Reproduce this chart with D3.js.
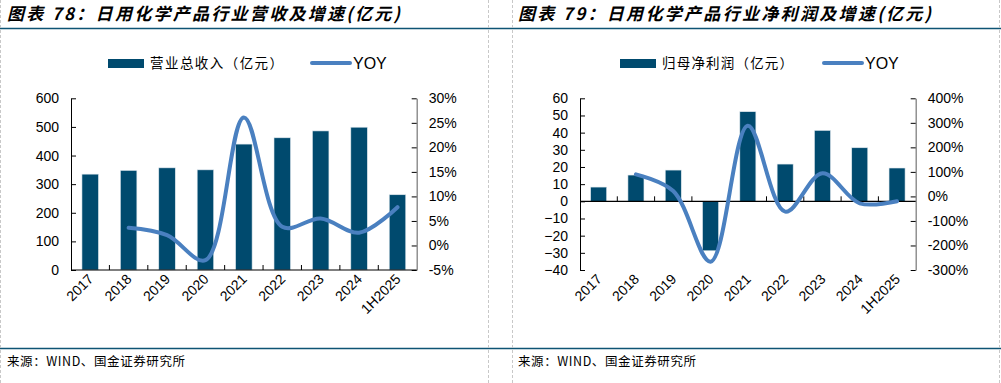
<!DOCTYPE html>
<html><head><meta charset="utf-8">
<script src="https://cdn.jsdelivr.net/npm/d3@7/dist/d3.min.js"></script>
<style>
body{margin:0;background:#fff;}
svg{display:block;}
text{font-family:"Liberation Sans",Arial,sans-serif;}
.cjk{font-family:"Noto Sans CJK SC",sans-serif;}
</style></head><body>
<svg id="c" width="1001" height="383"></svg>
<script>
const categories = ["2017","2018","2019","2020","2021","2022","2023","2024","1H2025"];
// Left chart
const revenue = [335, 348, 357, 350, 440, 462, 486, 499, 263];
const revenueYoy = [null, 3.6, 2.1, -3.0, 26.1, 3.8, 5.5, 2.6, 7.8];
const revTicks = [0,100,200,300,400,500,600];
const revYoyTicks = [-5,0,5,10,15,20,25,30];
// Right chart
const profit = [8.3, 15.3, 18.2, -28.8, 52.2, 21.7, 41.3, 31.2, 19.4];
const profitYoy = [null, 90, 22, -266, 288, -62, 94, -28, -20];
const profTicks = [-40,-30,-20,-10,0,10,20,30,40,50,60];
const profYoyTicks = [-300,-200,-100,0,100,200,300,400];

const titles = ["图表 78：日用化学产品行业营收及增速(亿元)", "图表 79：日用化学产品行业净利润及增速(亿元)"];
const barLegends = ["营业总收入（亿元）", "归母净利润（亿元）"];
const source = "来源：WIND、国金证券研究所";

const BAR = "#004a6e", LINE = "#4a80c0", RULE = "#0e5474";
const svg = d3.select("#c");

// frame lines
svg.append("line").attr("x1",0).attr("x2",1001).attr("y1",28.5).attr("y2",28.5).attr("stroke",RULE).attr("stroke-width",1.5);
svg.append("line").attr("x1",0).attr("x2",1001).attr("y1",348.5).attr("y2",348.5).attr("stroke",RULE).attr("stroke-width",1.5);
[0.5, 488.5, 512.5, 999.5].forEach(x=>{
  svg.append("line").attr("x1",x).attr("x2",x).attr("y1",0).attr("y2",383).attr("stroke","#c8c8c8").attr("stroke-dasharray","3,2");
});

function panel(cfg){
  const g = svg.append("g");
  // title
  g.append("text").attr("class","cjk").attr("x",cfg.titleX).attr("y",20).attr("font-size",17).attr("font-weight","bold")
   .attr("font-style","italic").attr("textLength",cfg.titleLen).attr("lengthAdjust","spacing").text(cfg.title);
  // source
  g.append("text").attr("class","cjk").attr("x",cfg.titleX).attr("y",366).attr("font-size",12.5)
   .attr("textLength",178).attr("lengthAdjust","spacing").text(source);

  const x = d3.scaleBand().domain(categories).range([cfg.x0, cfg.x1]).paddingInner(0.57).paddingOuter(0.285);
  const band = (cfg.x1-cfg.x0)/categories.length;
  const y = d3.scaleLinear().domain(cfg.yDom).range([270, 98.3]);
  const y2 = d3.scaleLinear().domain(cfg.y2Dom).range([270, 98.3]);

  // bars
  g.selectAll("rect.bar").data(cfg.bars).join("rect").attr("class","bar")
    .attr("x",(d,i)=>x(categories[i])).attr("width",x.bandwidth())
    .attr("y",d=>y(Math.max(0,d))).attr("height",d=>Math.abs(y(d)-y(0)))
    .attr("fill",BAR).attr("stroke","#dfe8ee").attr("stroke-width",0.6);

  // left axis
  const la = d3.axisLeft(y).tickValues(cfg.yTicks).tickSizeInner(-5).tickSizeOuter(0).tickPadding(12);
  const lg = g.append("g").attr("transform",`translate(${cfg.x0},0)`).call(la);
  lg.select(".domain").attr("stroke","#000");
  lg.selectAll(".tick line").attr("stroke","#000");
  lg.selectAll("text").attr("font-size",14).attr("font-family","Liberation Sans, Arial, sans-serif").attr("fill","#000");

  // right axis
  const ra = d3.axisRight(y2).tickValues(cfg.y2Ticks).tickSizeInner(-5).tickSizeOuter(0).tickPadding(12).tickFormat(d=>d+"%");
  const rg = g.append("g").attr("transform",`translate(${cfg.x1},0)`).call(ra);
  rg.select(".domain").attr("stroke","#808080").attr("stroke-width",1.3);
  rg.selectAll(".tick line").attr("stroke","#000");
  rg.selectAll("text").attr("font-size",14).attr("font-family","Liberation Sans, Arial, sans-serif").attr("fill","#000");

  // category axis at value 0
  const y0 = y(0);
  g.append("line").attr("x1",cfg.x0).attr("x2",cfg.x1).attr("y1",y0).attr("y2",y0).attr("stroke","#000").attr("stroke-width",1.2);
  const bounds = d3.range(1, categories.length).map(i=>cfg.x0+i*band);
  g.selectAll("line.ct").data(bounds).join("line").attr("class","ct")
    .attr("x1",d=>d).attr("x2",d=>d).attr("y1",y0).attr("y2",y0-5).attr("stroke","#000");

  // category labels
  g.selectAll("text.cat").data(categories).join("text").attr("class","cat")
    .attr("transform",d=>`translate(${x(d)+x.bandwidth()/2+4},${280}) rotate(-45)`)
    .attr("text-anchor","end").attr("font-size",14).attr("fill","#000").text(d=>d);

  // line
  const pts = cfg.yoy.map((v,i)=>v==null?null:[x(categories[i])+x.bandwidth()/2, y2(v)]).filter(p=>p);
  g.append("path").attr("d", d3.line().curve(d3.curveCatmullRom.alpha(0.5))(pts))
    .attr("fill","none").attr("stroke",LINE).attr("stroke-width",4).attr("stroke-linecap","round");

  // legend
  const L = cfg.legend;
  g.append("rect").attr("x",L.rx).attr("y",59).attr("width",36).attr("height",9).attr("fill",BAR);
  g.append("text").attr("class","cjk").attr("x",L.tx).attr("y",68).attr("font-size",13.5)
   .attr("textLength",L.tlen).attr("lengthAdjust","spacing").text(cfg.barLegend);
  g.append("line").attr("x1",L.lx).attr("x2",L.lx+38).attr("y1",63).attr("y2",63).attr("stroke",LINE).attr("stroke-width",4).attr("stroke-linecap","round");
  g.append("text").attr("x",L.lx+41).attr("y",69).attr("font-size",16).text("YOY");
}

panel({title:titles[0], titleX:7, titleLen:393, x0:71, x1:416.7, yDom:[0,600], y2Dom:[-5,30],
  yTicks:revTicks, y2Ticks:revYoyTicks, bars:revenue, yoy:revenueYoy, barLegend:barLegends[0],
  legend:{rx:108, tx:150, tlen:133, lx:312}});
panel({title:titles[1], titleX:518, titleLen:413, x0:580, x1:915.7, yDom:[-40,60], y2Dom:[-300,400],
  yTicks:profTicks, y2Ticks:profYoyTicks, bars:profit, yoy:profitYoy, barLegend:barLegends[1],
  legend:{rx:620, tx:662, tlen:131, lx:824}});
</script></body></html>
